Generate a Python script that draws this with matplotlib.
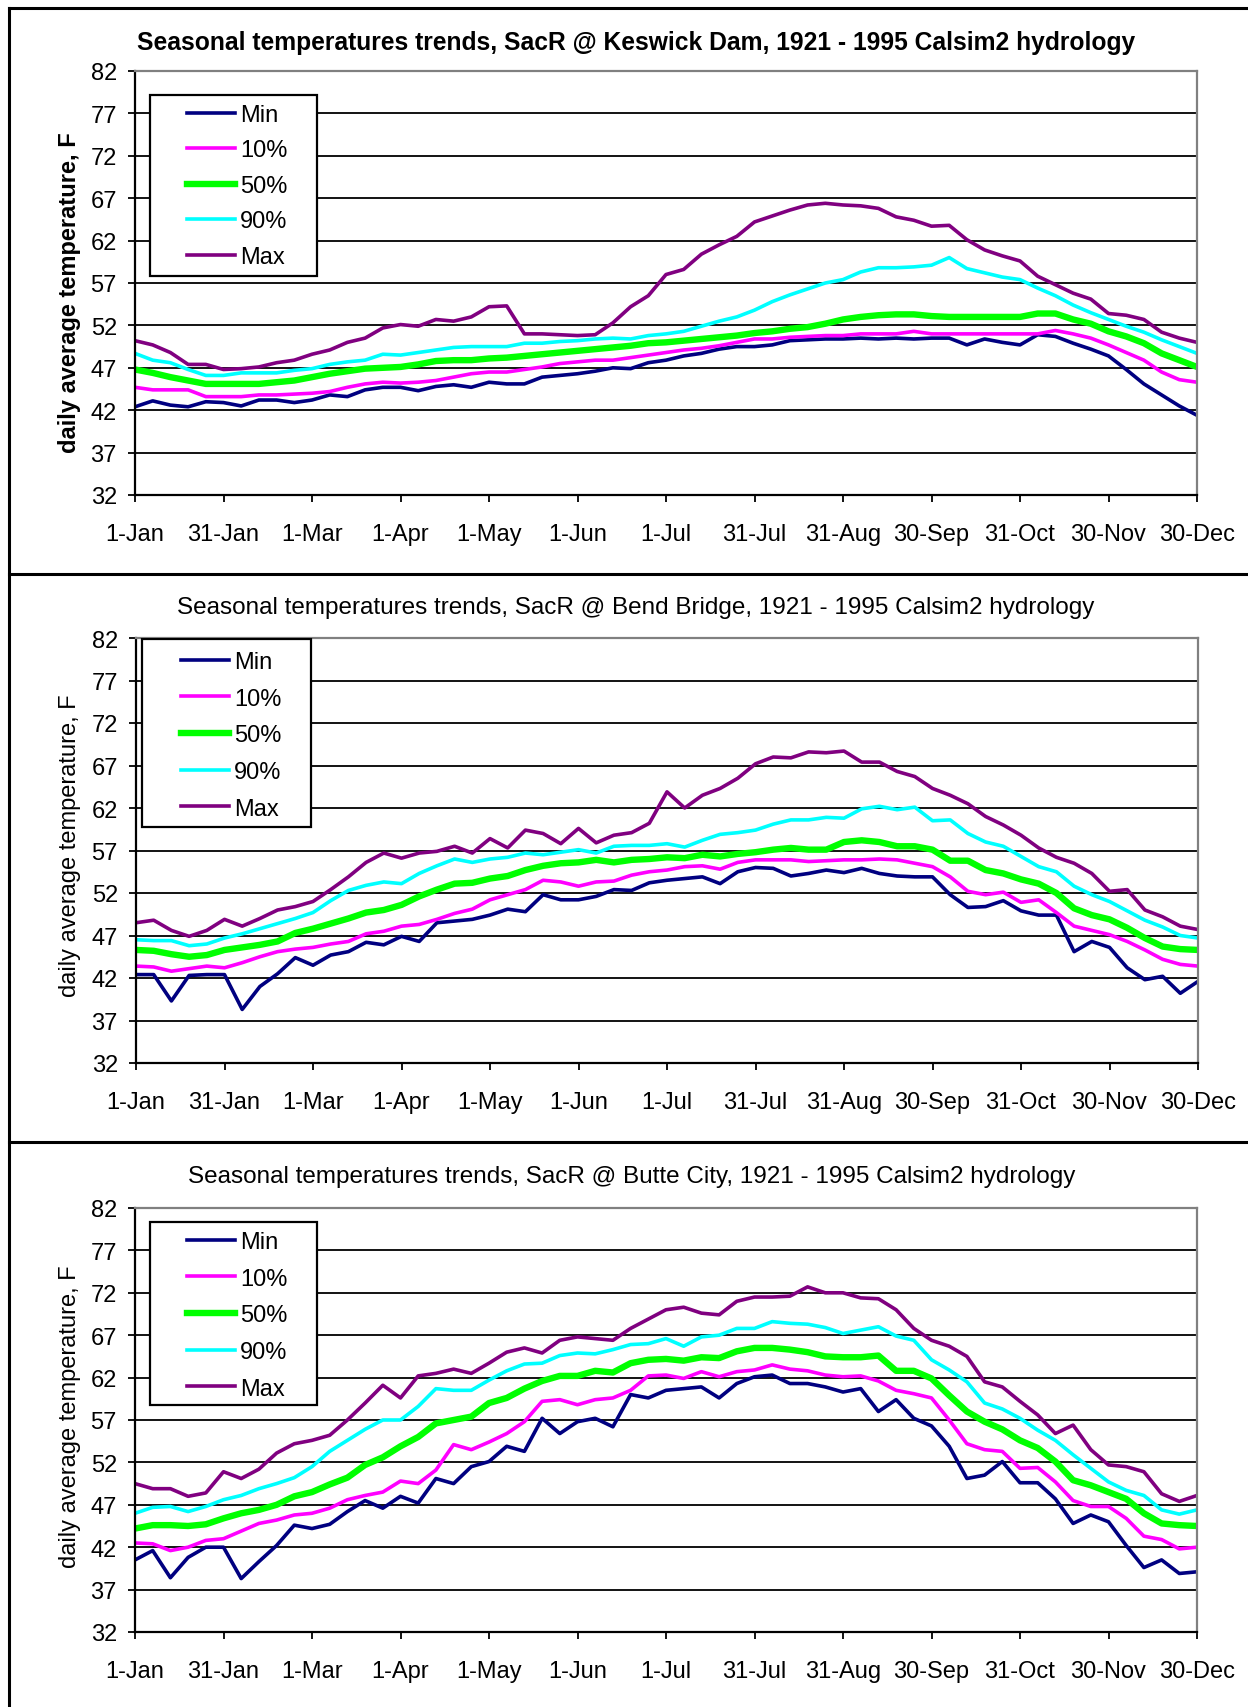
import matplotlib
matplotlib.use("Agg")
import matplotlib.pyplot as plt
from matplotlib.patches import Rectangle
from matplotlib.lines import Line2D

plt.rcParams['font.family'] = ['Liberation Sans', 'DejaVu Sans']

# ---------------- data ----------------
DAYS = list(range(0, 361, 6))          # sampling grid (day of year offset)
TICK_POS = [0, 30, 60, 90, 120, 150, 180, 210, 240, 270, 300, 330, 360]
TICK_LABELS = ["1-Jan", "31-Jan", "1-Mar", "1-Apr", "1-May", "1-Jun", "1-Jul",
               "31-Jul", "31-Aug", "30-Sep", "31-Oct", "30-Nov", "30-Dec"]
Y_TICKS = [32, 37, 42, 47, 52, 57, 62, 67, 72, 77, 82]
SERIES = ["Min", "10%", "50%", "90%", "Max"]

TITLES = ["Seasonal temperatures trends, SacR @ Keswick Dam, 1921 - 1995 Calsim2 hydrology",
          "Seasonal temperatures trends, SacR @ Bend Bridge, 1921 - 1995 Calsim2 hydrology",
          "Seasonal temperatures trends, SacR @ Butte City, 1921 - 1995 Calsim2 hydrology"]
YLABEL = "daily average temperature, F"

# Keswick Dam
kes_min = [42.4, 43.1, 42.6, 42.4, 43.0, 42.9, 42.5, 43.2, 43.2, 42.9, 43.2,
           43.8, 43.6, 44.4, 44.7, 44.7, 44.3, 44.8, 45.0, 44.7, 45.3,
           45.1, 45.1, 45.9, 46.1, 46.3, 46.6, 47.0, 46.9, 47.6, 47.9,
           48.4, 48.7, 49.2, 49.5, 49.5, 49.7, 50.2, 50.3, 50.4, 50.4,
           50.5, 50.4, 50.5, 50.4, 50.5, 50.5, 49.7, 50.4, 50.0, 49.7,
           50.9, 50.7, 49.9, 49.2, 48.4, 46.8, 45.1, 43.8, 42.5, 41.4]
kes_p10 = [44.7, 44.4, 44.4, 44.4, 43.6, 43.6, 43.6, 43.8, 43.8, 43.9, 44.0,
           44.2, 44.7, 45.1, 45.3, 45.2, 45.3, 45.5, 45.9, 46.3, 46.5,
           46.5, 46.8, 47.1, 47.5, 47.7, 47.9, 47.9, 48.2, 48.5, 48.8,
           49.1, 49.3, 49.6, 50.0, 50.4, 50.4, 50.6, 50.7, 50.8, 50.8,
           51.0, 51.0, 51.0, 51.3, 51.0, 51.0, 51.0, 51.0, 51.0, 51.0,
           51.0, 51.4, 51.0, 50.5, 49.7, 48.8, 47.9, 46.5, 45.6, 45.3]
kes_p50 = [46.8, 46.4, 45.9, 45.5, 45.1, 45.1, 45.1, 45.1, 45.3, 45.5, 45.9,
           46.3, 46.6, 46.9, 47.0, 47.1, 47.4, 47.8, 47.9, 47.9, 48.1,
           48.2, 48.4, 48.6, 48.8, 49.0, 49.2, 49.4, 49.6, 49.9, 50.0,
           50.2, 50.4, 50.6, 50.8, 51.1, 51.3, 51.6, 51.8, 52.2, 52.7,
           53.0, 53.2, 53.3, 53.3, 53.1, 53.0, 53.0, 53.0, 53.0, 53.0,
           53.4, 53.4, 52.7, 52.2, 51.3, 50.7, 49.9, 48.7, 47.9, 47.1]
kes_p90 = [48.7, 47.9, 47.6, 46.8, 46.1, 46.1, 46.4, 46.4, 46.4, 46.7, 46.9,
           47.4, 47.7, 47.9, 48.6, 48.5, 48.8, 49.1, 49.4, 49.5, 49.5,
           49.5, 49.9, 49.9, 50.1, 50.2, 50.4, 50.5, 50.4, 50.8, 51.0,
           51.3, 51.9, 52.5, 53.0, 53.8, 54.8, 55.6, 56.3, 57.0, 57.4,
           58.3, 58.8, 58.8, 58.9, 59.1, 60.0, 58.7, 58.2, 57.7, 57.4,
           56.4, 55.5, 54.4, 53.5, 52.7, 51.9, 51.2, 50.3, 49.5, 48.7]
kes_max = [50.2, 49.7, 48.8, 47.4, 47.4, 46.8, 46.9, 47.1, 47.6, 47.9, 48.6,
           49.1, 50.0, 50.5, 51.7, 52.1, 51.9, 52.7, 52.5, 53.0, 54.2,
           54.3, 51.0, 51.0, 50.9, 50.8, 50.9, 52.3, 54.2, 55.5, 58.0,
           58.6, 60.4, 61.5, 62.5, 64.2, 64.9, 65.6, 66.2, 66.4, 66.2,
           66.1, 65.8, 64.8, 64.4, 63.7, 63.8, 62.1, 60.9, 60.2, 59.6,
           57.8, 56.8, 55.8, 55.1, 53.4, 53.2, 52.7, 51.2, 50.5, 50.0]

# Bend Bridge
bend_min = [42.4, 42.4, 39.3, 42.3, 42.4, 42.4, 38.3, 41.0, 42.5, 44.4, 43.5,
            44.7, 45.1, 46.2, 45.9, 46.9, 46.3, 48.5, 48.7, 48.9, 49.4,
            50.1, 49.8, 51.8, 51.2, 51.2, 51.6, 52.4, 52.3, 53.2, 53.5,
            53.7, 53.9, 53.1, 54.5, 55.0, 54.9, 54.0, 54.3, 54.7, 54.4,
            54.9, 54.3, 54.0, 53.9, 53.9, 51.8, 50.3, 50.4, 51.1, 49.9,
            49.4, 49.4, 45.1, 46.3, 45.6, 43.2, 41.8, 42.2, 40.2, 41.6]
bend_p10 = [43.4, 43.3, 42.8, 43.1, 43.4, 43.2, 43.8, 44.5, 45.1, 45.4, 45.6,
            46.0, 46.3, 47.2, 47.5, 48.1, 48.3, 48.9, 49.6, 50.1, 51.2,
            51.8, 52.4, 53.5, 53.3, 52.8, 53.3, 53.4, 54.1, 54.5, 54.7,
            55.1, 55.2, 54.8, 55.6, 55.9, 55.9, 55.9, 55.7, 55.8, 55.9,
            55.9, 56.0, 55.9, 55.5, 55.1, 53.9, 52.2, 51.8, 52.1, 50.9,
            51.2, 49.7, 48.1, 47.6, 47.1, 46.3, 45.3, 44.2, 43.6, 43.4]
bend_p50 = [45.3, 45.2, 44.8, 44.5, 44.7, 45.3, 45.6, 45.9, 46.3, 47.3, 47.8,
            48.4, 49.0, 49.7, 50.0, 50.6, 51.6, 52.4, 53.1, 53.2, 53.7,
            54.0, 54.7, 55.2, 55.5, 55.6, 55.9, 55.6, 55.9, 56.0, 56.2,
            56.1, 56.5, 56.3, 56.6, 56.8, 57.1, 57.3, 57.1, 57.1, 58.0,
            58.2, 58.0, 57.5, 57.5, 57.1, 55.8, 55.8, 54.7, 54.3, 53.6,
            53.1, 52.0, 50.2, 49.4, 48.9, 47.9, 46.7, 45.7, 45.4, 45.3]
bend_p90 = [46.5, 46.4, 46.4, 45.8, 46.0, 46.7, 47.2, 47.8, 48.4, 49.0, 49.7,
            51.1, 52.3, 52.9, 53.3, 53.1, 54.3, 55.2, 56.0, 55.6, 56.0,
            56.2, 56.7, 56.5, 56.8, 57.1, 56.7, 57.5, 57.6, 57.6, 57.8,
            57.4, 58.2, 58.9, 59.1, 59.4, 60.1, 60.6, 60.6, 60.9, 60.8,
            61.9, 62.2, 61.8, 62.1, 60.5, 60.6, 59.0, 58.0, 57.5, 56.3,
            55.1, 54.5, 52.8, 51.8, 51.0, 49.9, 48.8, 48.0, 47.0, 46.7]
bend_max = [48.5, 48.8, 47.6, 46.9, 47.6, 48.9, 48.1, 49.0, 50.0, 50.4, 51.0,
            52.4, 53.9, 55.6, 56.7, 56.1, 56.7, 56.9, 57.5, 56.7, 58.4,
            57.3, 59.4, 59.0, 57.8, 59.6, 57.9, 58.8, 59.1, 60.2, 63.9,
            62.0, 63.5, 64.3, 65.5, 67.2, 68.0, 67.9, 68.6, 68.5, 68.7,
            67.4, 67.4, 66.3, 65.7, 64.3, 63.5, 62.5, 61.0, 60.0, 58.8,
            57.3, 56.2, 55.5, 54.3, 52.2, 52.4, 50.0, 49.2, 48.1, 47.7]

# Butte City
butte_min = [40.5, 41.6, 38.4, 40.8, 42.0, 42.0, 38.3, 40.3, 42.2, 44.6, 44.2,
             44.7, 46.2, 47.5, 46.6, 48.0, 47.2, 50.1, 49.5, 51.5, 52.1,
             53.9, 53.3, 57.2, 55.4, 56.8, 57.2, 56.2, 60.0, 59.6, 60.5,
             60.7, 60.9, 59.6, 61.3, 62.1, 62.3, 61.3, 61.3, 60.9, 60.3,
             60.7, 58.0, 59.4, 57.2, 56.3, 53.9, 50.1, 50.5, 52.1, 49.6,
             49.6, 47.7, 44.8, 45.8, 45.0, 42.2, 39.6, 40.5, 38.9, 39.1]
butte_p10 = [42.5, 42.4, 41.6, 42.0, 42.8, 43.0, 43.9, 44.8, 45.2, 45.8, 46.0,
             46.6, 47.6, 48.1, 48.5, 49.8, 49.5, 51.1, 54.1, 53.5, 54.4,
             55.4, 56.8, 59.2, 59.4, 58.8, 59.4, 59.6, 60.5, 62.2, 62.3,
             61.9, 62.7, 62.1, 62.7, 62.9, 63.5, 63.0, 62.8, 62.3, 62.1,
             62.2, 61.6, 60.5, 60.1, 59.6, 57.0, 54.2, 53.5, 53.3, 51.3,
             51.4, 49.7, 47.5, 46.8, 46.8, 45.4, 43.3, 42.9, 41.8, 42.0]
butte_p50 = [44.2, 44.6, 44.6, 44.5, 44.7, 45.4, 46.0, 46.4, 47.0, 48.0, 48.5,
             49.4, 50.2, 51.7, 52.6, 53.9, 55.0, 56.6, 57.0, 57.4, 59.0,
             59.6, 60.7, 61.6, 62.2, 62.2, 62.8, 62.6, 63.7, 64.1, 64.2,
             64.0, 64.4, 64.3, 65.1, 65.5, 65.5, 65.3, 65.0, 64.5, 64.4,
             64.4, 64.6, 62.8, 62.8, 61.9, 59.9, 58.0, 56.8, 55.9, 54.6,
             53.7, 52.1, 49.9, 49.3, 48.5, 47.7, 46.0, 44.8, 44.6, 44.5]
butte_p90 = [46.0, 46.7, 46.8, 46.2, 46.8, 47.6, 48.1, 48.9, 49.5, 50.2, 51.5,
             53.3, 54.6, 55.9, 57.0, 57.0, 58.6, 60.7, 60.5, 60.5, 61.7,
             62.8, 63.6, 63.7, 64.6, 64.9, 64.8, 65.3, 65.9, 66.0, 66.6,
             65.7, 66.8, 67.0, 67.8, 67.8, 68.6, 68.4, 68.3, 67.9, 67.2,
             67.6, 68.0, 66.9, 66.4, 64.1, 62.9, 61.5, 59.0, 58.3, 57.2,
             55.8, 54.6, 52.9, 51.3, 49.7, 48.7, 48.1, 46.4, 45.9, 46.4]
butte_max = [49.5, 48.9, 48.9, 48.0, 48.4, 50.9, 50.1, 51.2, 53.1, 54.2, 54.6,
             55.2, 57.0, 59.0, 61.1, 59.6, 62.2, 62.5, 63.0, 62.5, 63.7,
             65.0, 65.5, 64.9, 66.4, 66.8, 66.6, 66.4, 67.8, 68.9, 70.0,
             70.3, 69.6, 69.4, 71.0, 71.5, 71.5, 71.6, 72.7, 72.0, 72.0,
             71.4, 71.3, 70.0, 67.8, 66.4, 65.7, 64.5, 61.5, 60.9, 59.2,
             57.6, 55.4, 56.4, 53.5, 51.7, 51.5, 50.9, 48.3, 47.4, 48.1]

PANEL_DATA = [
    [kes_min, kes_p10, kes_p50, kes_p90, kes_max],
    [bend_min, bend_p10, bend_p50, bend_p90, bend_max],
    [butte_min, butte_p10, butte_p50, butte_p90, butte_max],
]

# ---------------- styling ----------------
COLORS = ["#000080", "#FF00FF", "#00FF00", "#00FFFF", "#800080"]
WIDTHS = [2.6, 2.6, 4.6, 2.6, 2.6]
FS = 17

W, H = 1248, 1708
fig = plt.figure(figsize=(W / 100, H / 100), dpi=100)


def fx(px):
    return px / W


def fy(py):
    return 1 - py / H


# layout in pixels
LAYOUT = [
    dict(top=72, bottom=496, left=135, right=1197, title_y=43, title_x=636,
         bold=True, tfs=17.75, box=(150, 96, 317, 277), leg=(187, 105),
         lsp=0.57, ylab_y=293),
    dict(top=639, bottom=1064, left=136, right=1198, title_y=608, title_x=636,
         bold=False, tfs=17.5, box=(142, 640, 311, 828), leg=(181, 652),
         lsp=0.62, ylab_y=846),
    dict(top=1209, bottom=1633, left=135, right=1197, title_y=1177, title_x=632,
         bold=False, tfs=17.5, box=(150, 1223, 317, 1406), leg=(187, 1232),
         lsp=0.62, ylab_y=1417),
]

for i, L in enumerate(LAYOUT):
    aw = L['right'] - L['left']
    ah = L['bottom'] - L['top']
    ax = fig.add_axes([fx(L['left']), fy(L['bottom']), aw / W, ah / H])
    ax.set_xlim(0, 360)
    ax.set_ylim(32, 82)
    ax.set_yticks(Y_TICKS)
    ax.set_xticks(TICK_POS)
    ax.set_xticklabels(TICK_LABELS)
    for v in Y_TICKS[1:-1]:
        ax.axhline(v, color='black', lw=1.3, zorder=0.5)
    for s in ['left', 'bottom']:
        ax.spines[s].set_color('black')
        ax.spines[s].set_linewidth(1.6)
    for s in ['top', 'right']:
        ax.spines[s].set_color('#808080')
        ax.spines[s].set_linewidth(1.6)
    ax.tick_params(axis='both', direction='out', length=5, width=1.3,
                   labelsize=FS, colors='black')
    ax.tick_params(axis='y', pad=8)
    ax.tick_params(axis='x', pad=15)

    handles = []
    for name, vals, c, lw in zip(SERIES, PANEL_DATA[i], COLORS, WIDTHS):
        ln, = ax.plot(DAYS, vals, color=c, lw=lw, label=name, zorder=2,
                      solid_joinstyle='round')
        handles.append(ln)

    bx0, by0, bx1, by1 = L['box']
    rect = Rectangle(((bx0 - L['left']) / aw, 1 - (by1 - L['top']) / ah),
                     (bx1 - bx0) / aw, (by1 - by0) / ah,
                     transform=ax.transAxes, facecolor='white',
                     edgecolor='black', lw=1.6, zorder=4)
    ax.add_patch(rect)
    lx, ly = L['leg']
    leg = ax.legend(handles, SERIES, loc='upper left',
                    bbox_to_anchor=((lx - L['left']) / aw, 1 - (ly - L['top']) / ah),
                    borderaxespad=0, borderpad=0, frameon=False,
                    handlelength=2.05, handletextpad=0.2, labelspacing=L['lsp'],
                    fontsize=FS)
    leg.set_zorder(5)

    weight = 'bold' if L['bold'] else 'normal'
    ax.text((70 - L['left']) / aw, 1 - (L['ylab_y'] - L['top']) / ah, YLABEL,
            transform=ax.transAxes, rotation=90, ha='center', va='center',
            fontsize=FS, fontweight=weight)
    fig.text(fx(L['title_x']), fy(L['title_y']), TITLES[i], ha='center',
             va='center', fontsize=L['tfs'], fontweight=weight)

# chart borders
def hline(y, x0=9, x1=W):
    fig.add_artist(Line2D([fx(x0), fx(x1)], [fy(y), fy(y)],
                          transform=fig.transFigure, color='black', lw=2.2))

hline(9)
hline(575)
hline(1143)
fig.add_artist(Line2D([fx(9), fx(9)], [fy(9), fy(H)],
                      transform=fig.transFigure, color='black', lw=2.2))

fig.savefig("out.png", dpi=100)
